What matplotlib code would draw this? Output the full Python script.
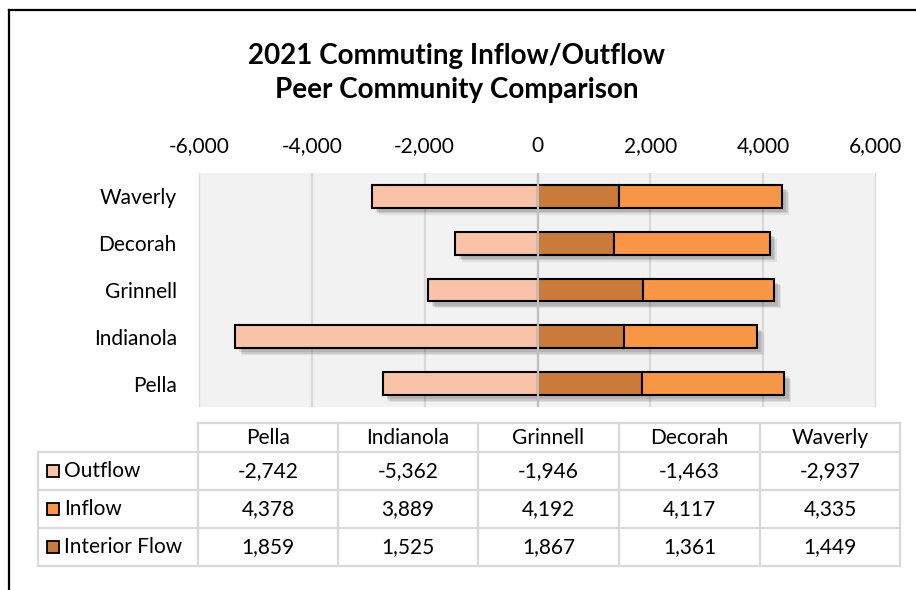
import matplotlib
matplotlib.use("Agg")
import matplotlib.pyplot as plt
import matplotlib.patheffects as pe
from matplotlib.lines import Line2D
from matplotlib.patches import Rectangle
from matplotlib.ticker import FuncFormatter

plt.rcParams['font.family'] = ['Lato', 'DejaVu Sans']

communities = ["Pella", "Indianola", "Grinnell", "Decorah", "Waverly"]
outflow = [-2742, -5362, -1946, -1463, -2937]
inflow = [4378, 3889, 4192, 4117, 4335]
interior = [1859, 1525, 1867, 1361, 1449]
series_names = ["Outflow", "Inflow", "Interior Flow"]
x_ticks = [-6000, -4000, -2000, 0, 2000, 4000, 6000]

c_out = "#F9C3A9"
c_in = "#F79646"
c_int = "#CA7A3A"

W, H = 916, 590
fig = plt.figure(figsize=(W / 100, H / 100), dpi=100)
FS = 15

def fx(x):
    return x / W

def fy(y):
    return 1 - y / H

# outer frame (left and top edges visible)
fig.add_artist(Line2D([fx(9), fx(9)], [fy(9.5), fy(600)], color="black", lw=1.6))
fig.add_artist(Line2D([fx(9), fx(920)], [fy(9.5), fy(9.5)], color="black", lw=1.6))

# title
fig.text(fx(457), fy(56), "2021 Commuting Inflow/Outflow", ha="center", va="center",
         fontsize=20, fontweight="bold")
fig.text(fx(457), fy(90), "Peer Community Comparison", ha="center", va="center",
         fontsize=20, fontweight="bold")

left, right, top, bottom = 199, 876, 173, 407
ax = fig.add_axes([fx(left), fy(bottom), (right - left) / W, (bottom - top) / H])
ax.set_facecolor("#F2F2F2")
ax.set_xlim(-6000, 6000)
ax.set_ylim(-0.5, len(communities) - 0.5)
for s in ax.spines.values():
    s.set_visible(False)

for t in x_ticks:
    ax.axvline(t, color="#D9D9D9", lw=1.6, zorder=1)

shadow = [pe.SimplePatchShadow(offset=(3, -3), shadow_rgbFace="#000000", alpha=0.10),
          pe.SimplePatchShadow(offset=(4, -4), shadow_rgbFace="#000000", alpha=0.10),
          pe.SimplePatchShadow(offset=(5, -5), shadow_rgbFace="#000000", alpha=0.07),
          pe.Normal()]

ypos = list(range(len(communities)))
bh = 0.49
b1 = ax.barh(ypos, outflow, height=bh, color=c_out, edgecolor="black", lw=1.5, zorder=3)
b2 = ax.barh(ypos, interior, height=bh, color=c_int, edgecolor="black", lw=1.5, zorder=3)
b3 = ax.barh(ypos, [i - j for i, j in zip(inflow, interior)], left=interior, height=bh,
             color=c_in, edgecolor="black", lw=1.5, zorder=3)
for bars in (b1, b2, b3):
    for p in bars:
        p.set_path_effects(shadow)

ax.axvline(0, color="#BFBFBF", lw=1.6, zorder=5)

ax.set_yticks(ypos)
ax.set_yticklabels(communities, fontsize=FS)
ax.set_xticks(x_ticks)
ax.xaxis.set_major_formatter(FuncFormatter(lambda v, p: f"{int(v):,}"))
ax.xaxis.tick_top()
ax.tick_params(axis="x", length=0, pad=12, labelsize=FS)
ax.tick_params(axis="y", length=0, pad=16)
for lab in ax.get_yticklabels():
    lab.set_horizontalalignment("right")

# data table
col_edges = [198, 338, 478, 619, 760, 900]
row_edges = [423, 452, 490, 528, 566]
tbl_left = 38
gc = "#D9D9D9"
lw_t = 1.6
fig.add_artist(Line2D([fx(col_edges[0]), fx(col_edges[-1])], [fy(row_edges[0])] * 2, color=gc, lw=lw_t))
for r in row_edges[1:]:
    fig.add_artist(Line2D([fx(tbl_left), fx(col_edges[-1])], [fy(r)] * 2, color=gc, lw=lw_t))
for c in col_edges:
    fig.add_artist(Line2D([fx(c)] * 2, [fy(row_edges[0]), fy(row_edges[-1])], color=gc, lw=lw_t))
fig.add_artist(Line2D([fx(tbl_left)] * 2, [fy(row_edges[1]), fy(row_edges[-1])], color=gc, lw=lw_t))

for i, name in enumerate(communities):
    cx = (col_edges[i] + col_edges[i + 1]) / 2
    fig.text(fx(cx), fy((row_edges[0] + row_edges[1]) / 2 + 1), name, ha="center", va="center", fontsize=FS)

rows = [outflow, inflow, interior]
colors = [c_out, c_in, c_int]
for r, (vals, nm, col) in enumerate(zip(rows, series_names, colors)):
    yc = (row_edges[r + 1] + row_edges[r + 2]) / 2
    fig.add_artist(Rectangle((fx(47), fy(yc + 6)), 12 / W, 12 / H, transform=fig.transFigure,
                             facecolor=col, edgecolor="black", lw=1.3))
    fig.text(fx(64), fy(yc), nm, ha="left", va="center", fontsize=FS)
    for i, v in enumerate(vals):
        cx = (col_edges[i] + col_edges[i + 1]) / 2
        fig.text(fx(cx), fy(yc), f"{v:,}", ha="center", va="center", fontsize=FS)

fig.savefig("out.png", dpi=100)
